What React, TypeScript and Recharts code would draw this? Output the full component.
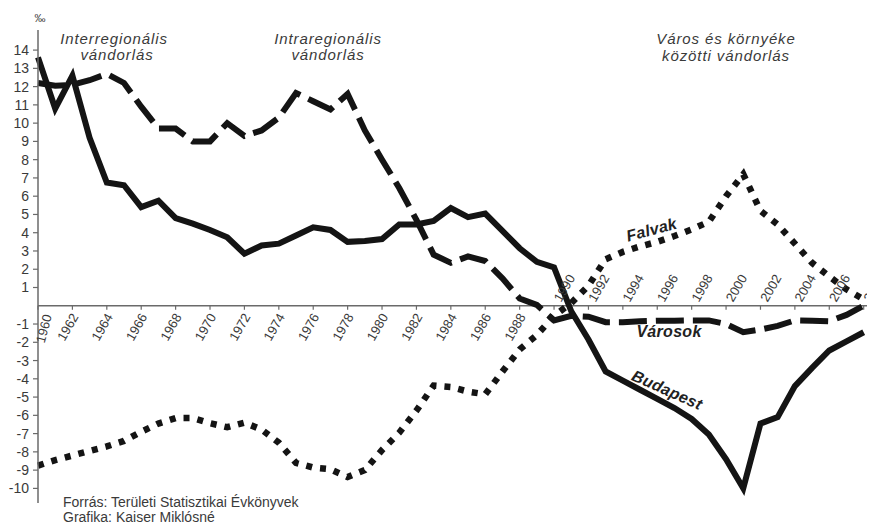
import React from 'react';
import { LineChart, Line, XAxis, YAxis, ReferenceLine } from 'recharts';

const years = [
  1960, 1961, 1962, 1963, 1964, 1965, 1966, 1967, 1968, 1969,
  1970, 1971, 1972, 1973, 1974, 1975, 1976, 1977, 1978, 1979,
  1980, 1981, 1982, 1983, 1984, 1985, 1986, 1987, 1988, 1989,
  1990, 1991, 1992, 1993, 1994, 1995, 1996, 1997, 1998, 1999,
  2000, 2001, 2002, 2003, 2004, 2005, 2006, 2007, 2008,
];

const budapest = [
  13.6, 10.8, 12.6, 9.2, 6.75, 6.6, 5.4, 5.75, 4.8, 4.5,
  4.15, 3.75, 2.85, 3.3, 3.4, 3.85, 4.3, 4.15, 3.5, 3.55,
  3.65, 4.45, 4.45, 4.65, 5.35, 4.85, 5.05, 4.1, 3.15, 2.4,
  2.1, -0.3, -1.85, -3.6, -4.1, -4.6, -5.1, -5.6, -6.2, -7.05,
  -8.4, -10.0, -6.45, -6.1, -4.4, -3.4, -2.45, -1.95, -1.45,
];

const varosok = [
  12.2, 12.05, 12.1, 12.35, 12.7, 12.2, 10.9, 9.7, 9.7, 9.0,
  9.0, 10.0, 9.3, 9.6, 10.3, 11.65, 11.2, 10.75, 11.6, 9.6,
  8.0, 6.45, 4.7, 2.8, 2.35, 2.7, 2.45, 1.5, 0.4, 0.05,
  -0.8, -0.55, -0.6, -0.9, -0.9, -0.85, -0.82, -0.82, -0.8, -0.8,
  -1.0, -1.45, -1.3, -1.1, -0.8, -0.82, -0.85, -0.5, 0.0,
];

const falvak = [
  -8.75, -8.45, -8.2, -7.95, -7.7, -7.4, -6.9, -6.45, -6.15, -6.15,
  -6.43, -6.65, -6.4, -6.78, -7.5, -8.6, -8.86, -8.95, -9.38, -9.0,
  -7.9, -6.95, -5.74, -4.37, -4.45, -4.7, -4.85, -3.6, -2.4, -1.6,
  -0.55, 0.15, 1.1, 2.55, 2.95, 3.25, 3.5, 3.82, 4.18, 4.6,
  6.0, 7.2, 5.2, 4.45, 3.4, 2.35, 1.6, 0.9, 0.35,
];

const xTicks = [
  1960, 1962, 1964, 1966, 1968, 1970, 1972, 1974, 1976, 1978, 1980, 1982, 1984,
  1986, 1988, 1990, 1992, 1994, 1996, 1998, 2000, 2002, 2004, 2006, 2008,
];
const xTickLabels = [
  '1960', '1962', '1964', '1966', '1968', '1970', '1972', '1974', '1976', '1978', '1980', '1982', '1984',
  '1986', '1988', '1990', '1992', '1994', '1996', '1998', '2000', '2002', '2004', '2006', '2008',
];
const yTicks = [-10, -9, -8, -7, -6, -5, -4, -3, -2, -1, 1, 2, 3, 4, 5, 6, 7, 8, 9, 10, 11, 12, 13, 14];

const data = years.map((y, i) => ({
  year: y,
  budapest: budapest[i],
  varosok: varosok[i],
  falvak: falvak[i],
}));

const W = 866;
const H = 516;
const M_TOP = 22;
const M_BOTTOM = 20;
const X_AXIS_H = 1;
const Y_MIN = -10.8;
const Y_MAX = 15.1;
const PLOT_H = H - M_TOP - M_BOTTOM - X_AXIS_H;
const ZERO_Y = M_TOP + (PLOT_H * Y_MAX) / (Y_MAX - Y_MIN);

const FONT = '"Liberation Sans", Arial, Helvetica, sans-serif';
const AXIS = '#6a6a6a';
const INK = '#141414';
const TXT = '#3a3a3a';

const XTick = (props: any) => {
  const { x, payload } = props;
  const v = payload.value;
  const idx = xTicks.indexOf(v);
  const label = idx >= 0 ? xTickLabels[idx] : String(v);
  let t;
  if (v === 1960) {
    const tx = x + 14;
    const ty = ZERO_Y + 10;
    t = (
      <text x={tx} y={ty} transform={`rotate(-75 ${tx} ${ty})`} textAnchor="end" fontSize={13} fill={TXT} fontFamily={FONT}>
        {label}
      </text>
    );
  } else if (v < 1990) {
    const tx = x + 6.5;
    const ty = ZERO_Y + 11;
    t = (
      <text x={tx} y={ty} transform={`rotate(-60 ${tx} ${ty})`} textAnchor="end" fontSize={13} fill={TXT} fontFamily={FONT}>
        {label}
      </text>
    );
  } else {
    const tx = x + 7;
    const ty = ZERO_Y - 3;
    t = (
      <text x={tx} y={ty} transform={`rotate(-60 ${tx} ${ty})`} textAnchor="start" fontSize={13} fill={TXT} fontFamily={FONT}>
        {label}
      </text>
    );
  }
  return (
    <g>
      <line x1={x} y1={ZERO_Y} x2={x} y2={ZERO_Y + 4} stroke={AXIS} strokeWidth={1.2} />
      {t}
    </g>
  );
};

export default function App() {
  const italic = { fontFamily: FONT, fontStyle: 'italic' as const, fontSize: 15, letterSpacing: 0.9, fill: TXT };
  const boldIt = { fontFamily: FONT, fontStyle: 'italic' as const, fontWeight: 700, fontSize: 16, letterSpacing: 0.3, fill: '#222' };
  return (
    <div style={{ position: 'relative', width: W, height: H }}>
      <LineChart width={W} height={H} data={data} margin={{ top: M_TOP, right: 0, bottom: M_BOTTOM, left: 0 }}>
        <XAxis
          dataKey="year"
          type="number"
          domain={[1960, 2008.6]}
          ticks={xTicks}
          interval={0}
          height={X_AXIS_H}
          axisLine={false}
          tickLine={false}
          tick={<XTick />}
        />
        <YAxis
          type="number"
          domain={[Y_MIN, Y_MAX]}
          ticks={yTicks}
          interval={0}
          width={30}
          tickSize={5}
          tickMargin={4}
          axisLine={{ stroke: AXIS, strokeWidth: 1.5 }}
          tickLine={{ stroke: AXIS, strokeWidth: 1.2 }}
          tick={{ fontSize: 14, fill: TXT, fontFamily: FONT }}
        />
        <ReferenceLine y={0} stroke={AXIS} strokeWidth={1.5} />
        <Line
          type="linear"
          dataKey="falvak"
          stroke={INK}
          strokeWidth={6.5}
          strokeDasharray="6 8"
          dot={false}
          isAnimationActive={false}
        />
        <Line
          type="linear"
          dataKey="varosok"
          stroke={INK}
          strokeWidth={6}
          strokeDasharray="28 9"
          dot={false}
          isAnimationActive={false}
        />
        <Line
          type="linear"
          dataKey="budapest"
          stroke={INK}
          strokeWidth={6}
          dot={false}
          isAnimationActive={false}
        />
      </LineChart>
      <svg width={W} height={H} style={{ position: 'absolute', left: 0, top: 0, pointerEvents: 'none', overflow: 'visible' }}>
        <text x={32} y={14} textAnchor="middle" fontSize={11} fill={TXT} fontFamily={FONT}>‰</text>
        <text x={106} y={36} textAnchor="middle" {...italic}>Interregionális</text>
        <text x={109} y={52} textAnchor="middle" {...italic}>vándorlás</text>
        <text x={320} y={36} textAnchor="middle" {...italic}>Intraregionális</text>
        <text x={320} y={52} textAnchor="middle" {...italic}>vándorlás</text>
        <text x={718} y={36} textAnchor="middle" {...italic}>Város és környéke</text>
        <text x={718} y={53} textAnchor="middle" {...italic}>közötti vándorlás</text>
        <text x={645} y={227} textAnchor="middle" transform="rotate(-15 645 227)" {...boldIt}>Falvak</text>
        <text x={661} y={329} textAnchor="middle" {...boldIt}>Városok</text>
        <text x={657} y={387} textAnchor="middle" transform="rotate(24 657 387)" {...boldIt}>Budapest</text>
        <text x={55} y={499} fontSize={14} fill={TXT} fontFamily={FONT}>Forrás: Területi Statisztikai Évkönyvek</text>
        <text x={55} y={514} fontSize={14} fill={TXT} fontFamily={FONT}>Grafika: Kaiser Miklósné</text>
      </svg>
    </div>
  );
}
